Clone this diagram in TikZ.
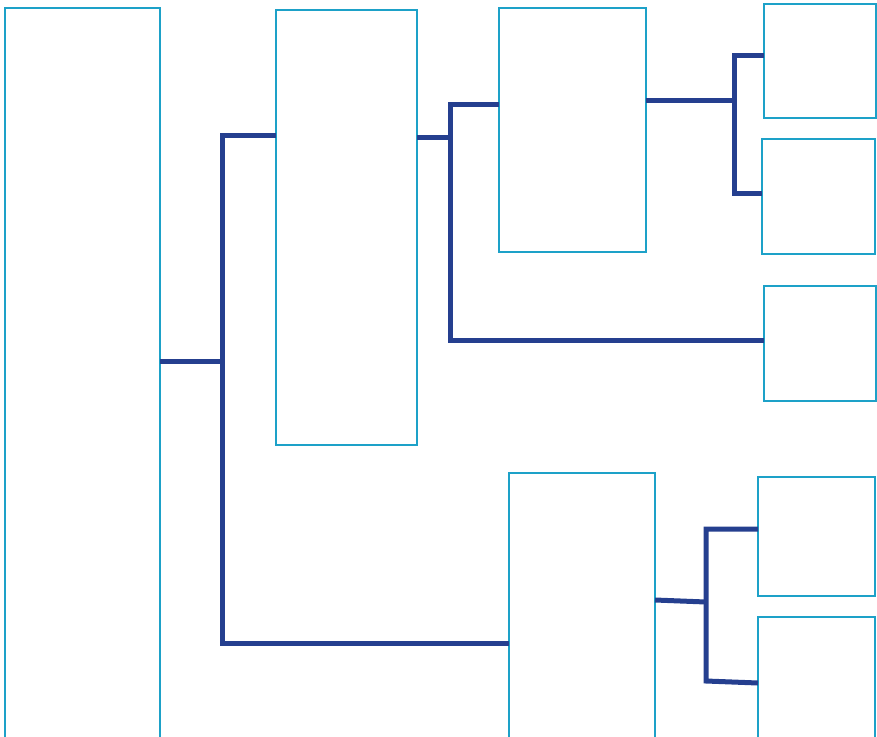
\documentclass[tikz,border=0pt]{standalone}
\usetikzlibrary{calc}
\definecolor{boxcol}{HTML}{1DA1C8}
\definecolor{linkcol}{HTML}{253F8F}
\begin{document}
\begin{tikzpicture}[x=1pt,y=-1pt,
  box/.style={draw=boxcol,line width=2.2pt,fill=none,inner sep=0pt,outer sep=0pt,anchor=north west},
  link/.style={draw=linkcol,line width=5pt,line cap=butt,line join=miter}]
\useasboundingbox (0,0) rectangle (877,736);
\clip (0,0) rectangle (877,736);
% boxes
\node[box,minimum width=155pt,minimum height=740pt] (A) at (5,8) {};
\node[box,minimum width=141pt,minimum height=435pt] (B) at (276,10) {};
\node[box,minimum width=147pt,minimum height=244pt] (C) at (499,8) {};
\node[box,minimum width=112pt,minimum height=114pt] (D1) at (764,4) {};
\node[box,minimum width=113pt,minimum height=115pt] (D2) at (762,139) {};
\node[box,minimum width=112pt,minimum height=115pt] (D3) at (764,286) {};
\node[box,minimum width=146pt,minimum height=280pt] (E) at (509,473) {};
\node[box,minimum width=117pt,minimum height=119pt] (F1) at (758,477) {};
\node[box,minimum width=117pt,minimum height=130pt] (F2) at (758,617) {};
% junctions
\coordinate (ja) at (222,361);
\coordinate (ja1) at (222,135);
\coordinate (ja2) at (222,643);
\coordinate (jb) at (450,137);
\coordinate (jb1) at (450,104);
\coordinate (jb2) at (450,340);
\coordinate (jc) at (734,100);
\coordinate (jc1) at (734,55);
\coordinate (jc2) at (734,193);
\coordinate (je) at (706,602);
\coordinate (je1) at (706,529);
\coordinate (je2) at (706,681);
% connectors
\draw[link] (A.east |- ja) -- (ja);
\draw[link] (B.west |- ja1) -- (ja1) -- (ja2) -- (E.west |- ja2);
\draw[link] (B.east |- jb) -- (jb);
\draw[link] (C.west |- jb1) -- (jb1) -- (jb2) -- (D3.west |- jb2);
\draw[link] (C.east |- jc) -- (jc);
\draw[link] (D1.west |- jc1) -- (jc1) -- (jc2) -- (D2.west |- jc2);
\draw[link] ($(E.east |- je)+(0,-2)$) -- (je);
\draw[link] (F1.west |- je1) -- (je1) -- (je2) -- ($(F2.west |- je2)+(0,2)$);
\end{tikzpicture}
\end{document}
